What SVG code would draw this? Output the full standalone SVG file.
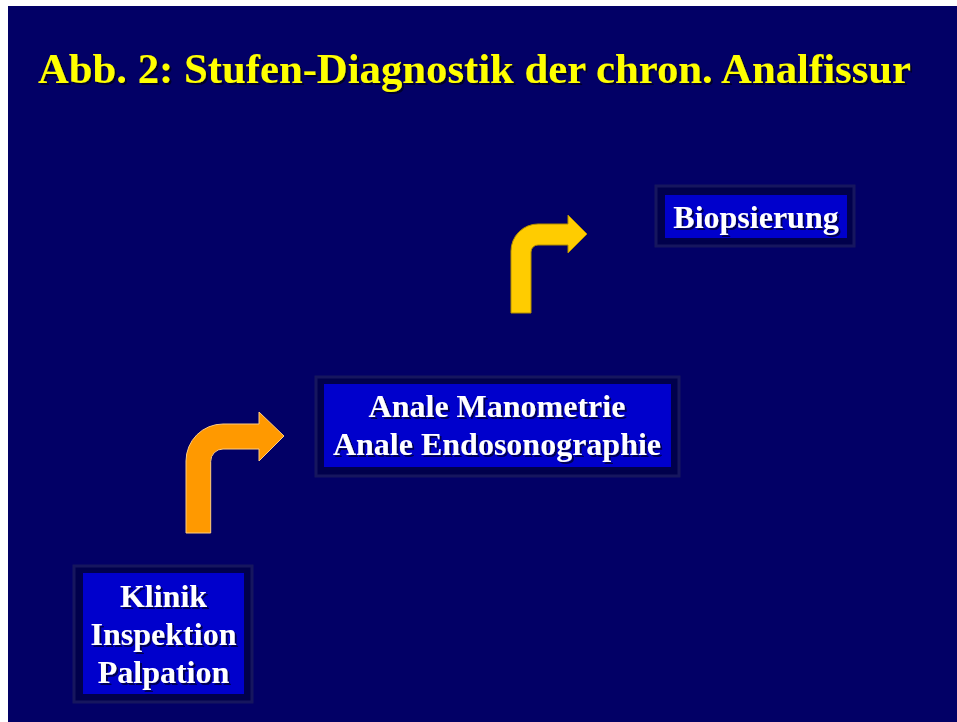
<svg xmlns="http://www.w3.org/2000/svg" width="957" height="722" viewBox="0 0 957 722">
<defs>
<style>
.t{font-family:"Liberation Serif","Times New Roman",serif;font-weight:bold;}
.title{font-size:43px;fill:#ffff00;}
.lbl{font-size:32px;fill:#ffffff;text-anchor:middle;}
.frame{fill:#00004c;stroke:#16165e;stroke-width:3;}
.box{fill:#0000cc;}
</style>
<filter id="sh" x="-10%" y="-30%" width="120%" height="160%">
<feDropShadow dx="2" dy="2" stdDeviation="0.6" flood-color="#000000" flood-opacity="0.6"/>
</filter>
</defs>
<rect x="0" y="0" width="957" height="722" fill="#ffffff"/>
<rect x="8" y="6" width="949" height="716" fill="#020066"/>
<text class="t title" x="38" y="83" textLength="873" lengthAdjust="spacingAndGlyphs" filter="url(#sh)">Abb. 2: Stufen-Diagnostik der chron. Analfissur</text>
<g id="connectors">
<path d="M186,533 L186,461 A37,37 0 0 1 223,424 L259,424 L259,412 L284,436 L259,461 L259,449 L223,449 A12.3,12.3 0 0 0 210.7,461.3 L210.7,533 Z" fill="#ff9900" stroke="#ffcc80" stroke-width="1"/>
<path d="M511,313 L511,251 A27,27 0 0 1 538,224 L568,224 L568,215 L587,234 L568,253 L568,245 L538,245 A7,7 0 0 0 531,252 L531,313 Z" fill="#ffcc00" stroke="#b38f00" stroke-width="1"/>
</g>
<g id="node-klinik">
<rect class="frame" x="74" y="566" width="178" height="136"/>
<rect class="box" x="83" y="573" width="161" height="121"/>
<g class="t lbl" filter="url(#sh)">
<text x="163.5" y="607">Klinik</text>
<text x="163.5" y="645">Inspektion</text>
<text x="163.5" y="683">Palpation</text>
</g>
</g>
<g id="node-anale">
<rect class="frame" x="316" y="377" width="363" height="99"/>
<rect class="box" x="324" y="384" width="347" height="83"/>
<g class="t lbl" filter="url(#sh)">
<text x="497" y="417">Anale Manometrie</text>
<text x="497" y="455">Anale Endosonographie</text>
</g>
</g>
<g id="node-biopsie">
<rect class="frame" x="656" y="186" width="198" height="60"/>
<rect class="box" x="665" y="195" width="182" height="43"/>
<text class="t lbl" x="756" y="228" filter="url(#sh)">Biopsierung</text>
</g>
</svg>
